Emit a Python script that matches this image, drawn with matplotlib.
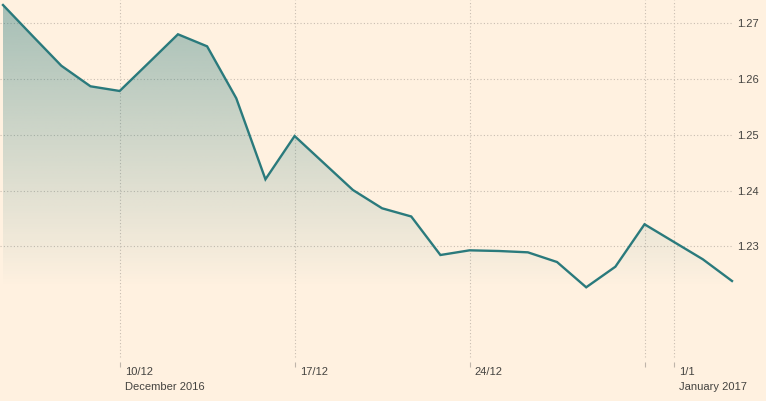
import numpy as np
import matplotlib
matplotlib.use("Agg")
import matplotlib.pyplot as plt
from matplotlib.patches import Polygon
import matplotlib.transforms as mtransforms

# daily readings, one point per slot (index positions)
values = [1.27328, 1.26781, 1.26239, 1.25870, 1.25786, 1.26293, 1.26803,
          1.26587, 1.25655, 1.24202, 1.24978, 1.24494, 1.24010, 1.23682,
          1.23535, 1.22844, 1.22928, 1.22916, 1.22892, 1.22718, 1.22265,
          1.22634, 1.23395, 1.23081, 1.22767, 1.22378]
y_ticks = [1.23, 1.24, 1.25, 1.26, 1.27]
x_grid = [4, 10, 16, 22, 23]
x_labels = {4: ("10/12", "December 2016"), 10: ("17/12", ""),
            16: ("24/12", ""), 23: ("1/1", "January 2017")}

BG = "#fff1e0"
LINE = "#2a7a7c"
GRID = "#c9beb2"
TEXT = "#444340"

plt.rcParams["font.family"] = ["Liberation Sans", "DejaVu Sans"]

W, H = 766, 401
fig = plt.figure(figsize=(W / 100, H / 100), dpi=100, facecolor=BG)
ax = fig.add_axes([0, (H - 362) / H, 732 / W, 362 / H])
ax.set_facecolor(BG)

x = np.arange(len(values))
y = np.array(values)
xlim = (-3 / 29.15, len(values) - 1)
ylim = (1.20925, 1.27418)
ax.set_xlim(*xlim)
ax.set_ylim(*ylim)

# gradient fill under the line
ymax, ymin = y.max(), y.min()
ys = np.linspace(ylim[0], ymax, 300)
alpha = np.clip((ys - ymin) / (ymax - ymin), 0, 1) * 0.42
rgba = np.zeros((len(ys), 2, 4))
rgba[..., :3] = matplotlib.colors.to_rgb(LINE)
rgba[..., 3] = alpha[:, None]
im = ax.imshow(rgba, extent=(x[0], x[-1], ylim[0], ymax), origin="lower",
               aspect="auto", interpolation="bilinear", zorder=1)
poly = Polygon(np.column_stack([np.r_[x[0], x, x[-1]], np.r_[ylim[0], y, ylim[0]]]),
               closed=True, facecolor="none", edgecolor="none")
ax.add_patch(poly)
im.set_clip_path(poly)

ax.plot(x, y, color=LINE, lw=1.7, zorder=3, clip_on=False, solid_joinstyle="miter")

# grid
for t in y_ticks:
    ax.axhline(t, color=GRID, lw=0.8, ls=(0, (1, 2)), zorder=0)
for g in x_grid:
    ax.axvline(g, ymin=0.015, color=GRID, lw=0.8, ls=(0, (1, 2)), zorder=0)

for s in ax.spines.values():
    s.set_visible(False)

ax.set_xticks(x_grid)
ax.set_xticklabels([])
ax.tick_params(axis="x", length=3.5, width=0.8, color="#bfb5aa", direction="out")
ax.set_yticks(y_ticks)
ax.yaxis.tick_right()
ax.tick_params(axis="y", length=0, pad=3.5, labelsize=8, labelcolor=TEXT)

trans = mtransforms.blended_transform_factory(ax.transData, fig.transFigure)
for pos, (l1, l2) in x_labels.items():
    off = 5 / 29.15
    ax.text(pos + off, (H - 372) / H, l1, transform=trans, fontsize=8,
            color=TEXT, ha="left", va="center")
    if l2:
        ax.text(pos + off, (H - 387) / H, l2, transform=trans, fontsize=8,
                color=TEXT, ha="left", va="center")

fig.savefig("out.png", dpi=100, facecolor=BG)
